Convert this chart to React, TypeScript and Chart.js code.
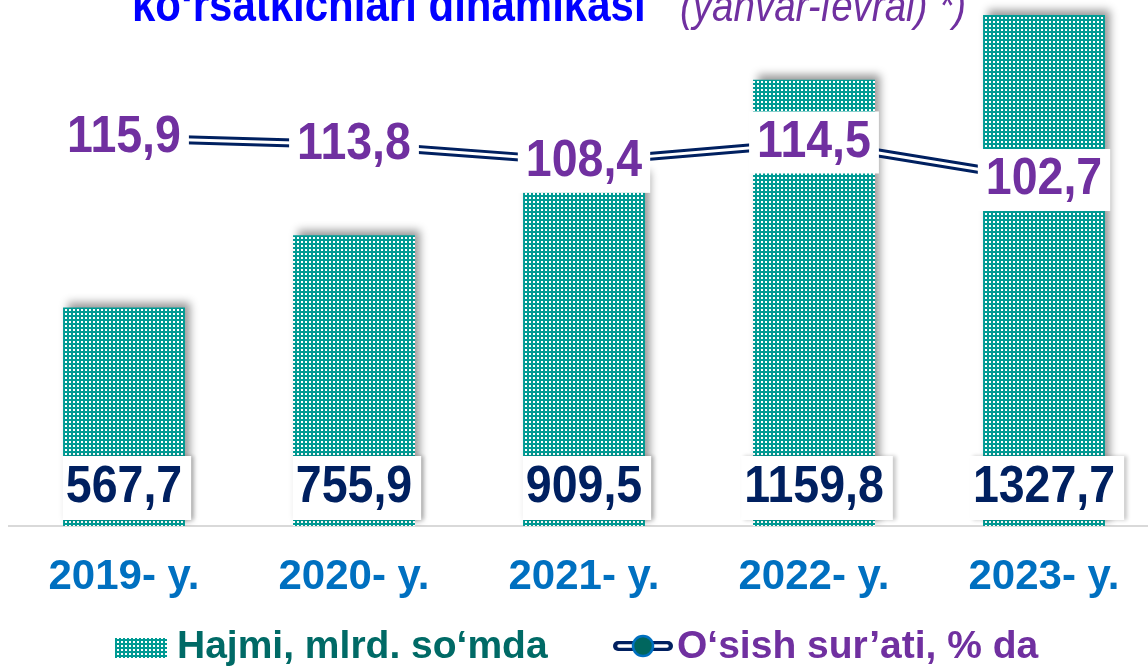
import React, { useEffect, useRef } from 'react';
import { Chart, registerables } from 'chart.js';

Chart.register(...registerables);

const categories = ['2019- y.', '2020- y.', '2021- y.', '2022- y.', '2023- y.'];
const volumeValues = [567.7, 755.9, 909.5, 1159.8, 1327.7];
const growthValues = [115.9, 113.8, 108.4, 114.5, 102.7];
const volumeLegend = 'Hajmi, mlrd. so‘mda';
const growthLegend = 'O‘sish sur’ati, % da';
const titleMain = 'ko‘rsatkichlari dinamikasi';
const titleNote = '(yanvar-fevral) *)';

const FONT = '"Liberation Sans", Arial, Helvetica, sans-serif';
const TEAL = '#009A93';
const NAVY = '#002060';
const PURPLE = '#7030A0';
const BLUE = '#0070C0';

const fmt = (v: number) => v.toFixed(1).replace('.', ',');

function makePattern(ctx: CanvasRenderingContext2D) {
  const c = document.createElement('canvas');
  c.width = 4;
  c.height = 4;
  const g = c.getContext('2d')!;
  g.fillStyle = TEAL;
  g.fillRect(0, 0, 4, 4);
  g.fillStyle = '#ffffff';
  g.fillRect(1, 1, 2, 2);
  return ctx.createPattern(c, 'repeat')!;
}

function stretchedText(
  ctx: CanvasRenderingContext2D,
  text: string,
  x: number,
  y: number,
  font: string,
  color: string,
  sy: number,
  align: CanvasTextAlign = 'center',
  baseline: CanvasTextBaseline = 'middle'
) {
  ctx.save();
  ctx.translate(x, y);
  ctx.scale(1, sy);
  ctx.font = font;
  ctx.fillStyle = color;
  ctx.textAlign = align;
  ctx.textBaseline = baseline;
  ctx.fillText(text, 0, 0);
  ctx.restore();
}

const barShadowPlugin = {
  id: 'barShadow',
  beforeDatasetDraw(chart: any, args: any) {
    if (args.index === 0) {
      const ctx = chart.ctx;
      ctx.save();
      ctx.shadowColor = 'rgba(0,0,0,0.4)';
      ctx.shadowBlur = 8;
      ctx.shadowOffsetX = 5;
      ctx.shadowOffsetY = -5;
    }
  },
  afterDatasetDraw(chart: any, args: any) {
    if (args.index === 0) chart.ctx.restore();
  },
};

const labelsPlugin = {
  id: 'valueLabels',
  afterDatasetsDraw(chart: any) {
    const ctx: CanvasRenderingContext2D = chart.ctx;
    const barMeta = chart.getDatasetMeta(0);
    const lineMeta = chart.getDatasetMeta(1);
    const base = chart.scales.y.getPixelForValue(0);
    const font = `bold 46.5px ${FONT}`;
    ctx.save();
    volumeValues.forEach((v, i) => {
      const el = barMeta.data[i];
      const t = fmt(v);
      ctx.font = font;
      const w = ctx.measureText(t).width;
      const cx = el.x;
      const cy = base - 38;
      const bw = w + 12;
      const bh = 64;
      ctx.save();
      ctx.shadowColor = 'rgba(0,0,0,0.22)';
      ctx.shadowBlur = 4;
      ctx.shadowOffsetX = 3;
      ctx.fillStyle = '#ffffff';
      ctx.fillRect(cx + 3 - bw / 2, cy - bh / 2, bw, bh);
      ctx.restore();
      stretchedText(ctx, t, cx, cy, font, NAVY, 1.11);
    });
    growthValues.forEach((v, i) => {
      const el = lineMeta.data[i];
      const t = fmt(v);
      ctx.font = font;
      const w = ctx.measureText(t).width;
      const cx = el.x;
      const cy = el.y;
      const bw = w + 16;
      const bh = 62;
      ctx.fillStyle = '#ffffff';
      ctx.fillRect(cx - bw / 2, cy - bh / 2, bw, bh);
      stretchedText(ctx, t, cx, cy, font, PURPLE, 1.11);
    });
    ctx.restore();
  },
  afterDraw(chart: any) {
    const ctx: CanvasRenderingContext2D = chart.ctx;
    // title (partially cut off at the top)
    stretchedText(ctx, titleMain, 132, 21, `bold 42px ${FONT}`, '#0000FF', 1.13, 'left', 'alphabetic');
    stretchedText(ctx, titleNote, 680, 21, `italic 38.5px ${FONT}`, PURPLE, 1.13, 'left', 'alphabetic');

    // legend
    const pattern = makePattern(ctx);
    ctx.save();
    ctx.fillStyle = pattern;
    ctx.fillRect(115, 638, 52, 20);
    ctx.restore();
    stretchedText(ctx, volumeLegend, 177, 658, `bold 39px ${FONT}`, '#006A66', 1.0, 'left', 'alphabetic');

    ctx.save();
    ctx.lineCap = 'round';
    ctx.strokeStyle = NAVY;
    ctx.lineWidth = 10;
    ctx.beginPath();
    ctx.moveTo(618, 646);
    ctx.lineTo(668, 646);
    ctx.stroke();
    ctx.strokeStyle = '#ffffff';
    ctx.lineWidth = 3.5;
    ctx.beginPath();
    ctx.moveTo(619, 646);
    ctx.lineTo(667, 646);
    ctx.stroke();
    ctx.beginPath();
    ctx.arc(643, 646, 10, 0, Math.PI * 2);
    ctx.fillStyle = '#00665E';
    ctx.fill();
    ctx.lineWidth = 2.5;
    ctx.strokeStyle = BLUE;
    ctx.stroke();
    ctx.restore();
    stretchedText(ctx, growthLegend, 677, 658, `bold 39px ${FONT}`, PURPLE, 1.0, 'left', 'alphabetic');
  },
};

export default function App() {
  const ref = useRef<HTMLCanvasElement | null>(null);

  useEffect(() => {
    const canvas = ref.current!;
    const ctx = canvas.getContext('2d')!;
    const pattern = makePattern(ctx);
    const chart = new Chart(canvas, {
      type: 'bar',
      data: {
        labels: categories,
        datasets: [
          {
            type: 'bar',
            data: volumeValues,
            backgroundColor: pattern,
            borderWidth: 0,
            yAxisID: 'y',
            order: 3,
            barPercentage: 0.53,
            categoryPercentage: 1,
          } as any,
          {
            type: 'line',
            data: growthValues,
            borderColor: NAVY,
            borderWidth: 9,
            borderJoinStyle: 'round',
            yAxisID: 'y2',
            pointRadius: 0,
            tension: 0,
            fill: false,
            order: 2,
          } as any,
          {
            type: 'line',
            data: growthValues,
            borderColor: '#ffffff',
            borderWidth: 3,
            borderJoinStyle: 'round',
            yAxisID: 'y2',
            pointRadius: 0,
            tension: 0,
            fill: false,
            order: 1,
          } as any,
        ],
      },
      options: {
        responsive: false,
        animation: false,
        devicePixelRatio: 1,
        layout: { padding: { left: 9, right: 1, top: 0, bottom: 0 } },
        plugins: {
          legend: { display: false },
          tooltip: { enabled: false },
          title: { display: false },
        },
        scales: {
          x: {
            grid: { display: false, drawTicks: false },
            border: { display: true, color: '#d9d9d9', width: 2 },
            ticks: {
              color: BLUE,
              font: { family: FONT, size: 42, weight: 'bold', lineHeight: 1.2 },
              padding: 26,
              maxRotation: 0,
              minRotation: 0,
              autoSkip: false,
            },
            afterFit: (s: any) => {
              s.height = 142;
            },
          },
          y: { display: false, min: 0, max: 1367 },
          y2: { display: false, min: -6.1, max: 159.3, position: 'right' },
        },
      } as any,
      plugins: [barShadowPlugin, labelsPlugin],
    });
    return () => chart.destroy();
  }, []);

  return (
    <div
      style={{
        position: 'fixed',
        left: 0,
        top: 0,
        width: 1148,
        height: 668,
        overflow: 'hidden',
        background: '#ffffff',
      }}
    >
      <canvas ref={ref} width={1160} height={668} style={{ display: 'block', width: 1160, height: 668 }} />
    </div>
  );
}
